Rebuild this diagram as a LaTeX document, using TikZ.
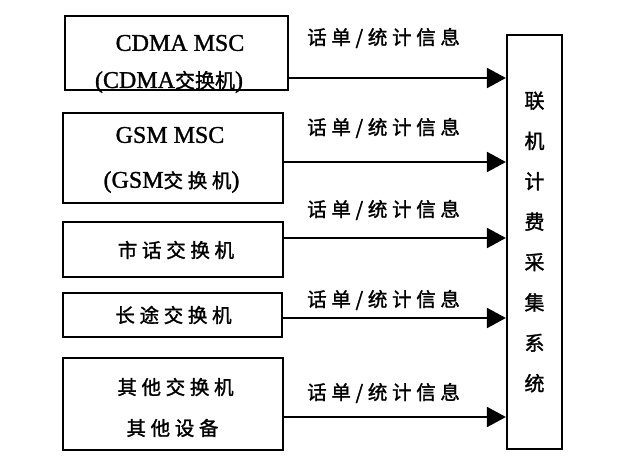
\documentclass[tikz,border=0pt]{standalone}
\usepackage{fontspec}
\setmainfont{Liberation Serif}[FakeBold=1.2]
\newfontfamily\cjk{Noto Sans CJK SC}[LetterSpace=24, FakeBold=1.5]
\newfontfamily\cjktight{Noto Sans CJK SC}[FakeBold=1.5]
\usetikzlibrary{arrows.meta}

\begin{document}
\begin{tikzpicture}[x=1pt, y=-1pt,
    box/.style={draw, line width=1.8pt, inner sep=0pt},
    latin/.style={inner sep=0pt, font=\fontsize{24}{24}\selectfont},
    hanzi/.style={inner sep=0pt, font=\cjk\fontsize{19.5}{19.5}\selectfont},
    flow/.style={line width=2pt, -{Triangle[length=19pt, width=20pt]}}]
  \useasboundingbox (0,0) rectangle (623,468);
  % source switches
  \node[box, minimum width=223pt, minimum height=74pt] (cdma) at (176.5,53) {};
  \node[box, minimum width=220pt, minimum height=90pt] (gsm) at (173,158) {};
  \node[box, minimum width=220pt, minimum height=55pt] (local) at (173,249.5) {};
  \node[box, minimum width=219pt, minimum height=44pt] (toll) at (172.5,315) {};
  \node[box, minimum width=220pt, minimum height=92pt] (other) at (173,404) {};
  \node[latin] (cdmaname) at (180,43) {CDMA MSC};
  \node[latin] (cdmasub) at (169,82) {(CDMA{\cjktight\fontsize{20}{20}\selectfont 交换机})};
  \node[latin] (gsmname) at (170,135) {GSM MSC};
  \node[latin] (gsmsub) at (171.5,182) {(GSM{\cjk\fontsize{19.5}{19.5}\selectfont 交换机})};
  \node[hanzi] (localname) at (176,250) {市话交换机};
  \node[hanzi] (tollname) at (173.5,315) {长途交换机};
  \node[hanzi] (othername) at (175.5,387) {其他交换机};
  \node[hanzi] (othersub) at (172.5,428) {其他设备};
  % billing system
  \node[box, line width=2.2pt, minimum width=55pt, minimum height=414pt, align=center,
    font=\cjktight\fontsize{20}{40.4}\selectfont] (billing) at (534.5,242)
    {联\\机\\计\\费\\采\\集\\系\\统};
  % records
  \coordinate (r1) at (0,78);
  \coordinate (r2) at (0,162);
  \coordinate (r3) at (0,238);
  \coordinate (r4) at (0,318);
  \coordinate (r5) at (0,417);
  \draw[flow] (cdma.east |- r1) -- (billing.west |- r1);
  \draw[flow] (gsm.east |- r2) -- (billing.west |- r2);
  \draw[flow] (local.east |- r3) -- (billing.west |- r3);
  \draw[flow] (toll.east |- r4) -- (billing.west |- r4);
  \draw[flow] (other.east |- r5) -- (billing.west |- r5);
  \node[hanzi, anchor=west] (msg1) at (307,38) {话单/统计信息};
  \node[hanzi, anchor=west] (msg2) at (307,128) {话单/统计信息};
  \node[hanzi, anchor=west] (msg3) at (307,210) {话单/统计信息};
  \node[hanzi, anchor=west] (msg4) at (307,300) {话单/统计信息};
  \node[hanzi, anchor=west] (msg5) at (307,393) {话单/统计信息};
\end{tikzpicture}
\end{document}
